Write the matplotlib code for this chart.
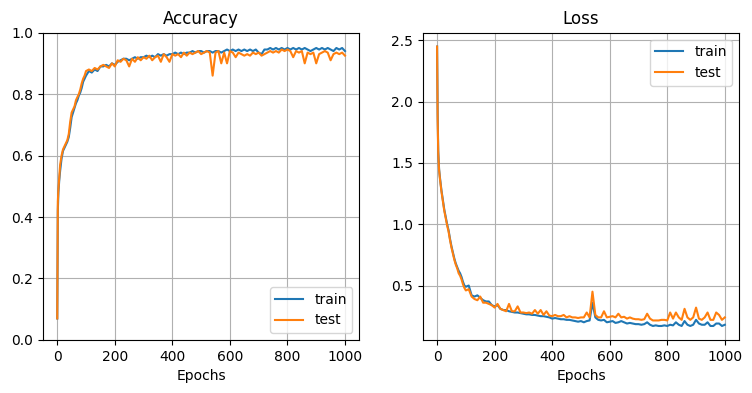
#Training curves: accuracy and loss of train/test over the epochs
import matplotlib
matplotlib.use("Agg")
import matplotlib.pyplot as plt

#Epochs at which the curves were read (denser at the start)
epochs = [0, 2, 4, 7] + list(range(10, 100, 5)) + list(range(100, 1001, 10))

#Accuracy
acc_train = [0.07, 0.42, 0.48, 0.52,
             0.55, 0.59, 0.615, 0.625, 0.635, 0.645, 0.66, 0.69, 0.725,
             0.74, 0.755, 0.77, 0.78, 0.795, 0.805, 0.82, 0.84, 0.85,
             0.86, 0.875, 0.87, 0.88, 0.875, 0.89, 0.89, 0.895, 0.89, 0.9,       # 100-190
             0.895, 0.905, 0.91, 0.915, 0.915, 0.91, 0.915, 0.92, 0.915, 0.92,   # 200-290
             0.92, 0.925, 0.92, 0.925, 0.92, 0.93, 0.925, 0.93, 0.925, 0.93,     # 300-390
             0.93, 0.935, 0.93, 0.935, 0.93, 0.935, 0.935, 0.94, 0.935, 0.94,    # 400-490
             0.94, 0.935, 0.94, 0.94, 0.935, 0.94, 0.94, 0.935, 0.94, 0.945,     # 500-590
             0.94, 0.945, 0.94, 0.945, 0.94, 0.945, 0.94, 0.945, 0.94, 0.945,    # 600-690
             0.935, 0.93, 0.945, 0.945, 0.95, 0.945, 0.95, 0.945, 0.95, 0.945,   # 700-790
             0.95, 0.945, 0.95, 0.945, 0.95, 0.945, 0.95, 0.945, 0.94, 0.945,    # 800-890
             0.95, 0.945, 0.95, 0.945, 0.95, 0.945, 0.94, 0.95, 0.945, 0.95,     # 900-990
             0.94]
acc_test = [0.07, 0.45, 0.49, 0.53,
            0.57, 0.6, 0.62, 0.63, 0.64, 0.65, 0.67, 0.71, 0.74,
            0.75, 0.76, 0.78, 0.79, 0.8, 0.815, 0.835, 0.85, 0.86,
            0.875, 0.88, 0.875, 0.885, 0.88, 0.89, 0.895, 0.89, 0.885, 0.9,    # 100-190
            0.89, 0.91, 0.905, 0.915, 0.91, 0.89, 0.915, 0.905, 0.92, 0.91,    # 200-290
            0.92, 0.915, 0.925, 0.91, 0.92, 0.925, 0.905, 0.93, 0.92, 0.905,   # 300-390
            0.93, 0.925, 0.93, 0.92, 0.935, 0.925, 0.935, 0.93, 0.935, 0.94,   # 400-490
            0.93, 0.935, 0.94, 0.935, 0.86, 0.935, 0.94, 0.9, 0.935, 0.9,      # 500-590
            0.94, 0.935, 0.92, 0.935, 0.93, 0.925, 0.93, 0.925, 0.935, 0.93,   # 600-690
            0.935, 0.925, 0.93, 0.935, 0.94, 0.935, 0.94, 0.935, 0.945, 0.94,  # 700-790
            0.945, 0.94, 0.92, 0.94, 0.935, 0.94, 0.9, 0.935, 0.93, 0.935,     # 800-890
            0.9, 0.93, 0.935, 0.94, 0.935, 0.91, 0.93, 0.935, 0.93, 0.935,     # 900-990
            0.925]

#Loss
loss_train = [2.45, 1.9, 1.6, 1.45,
              1.38, 1.28, 1.2, 1.12, 1.06, 1.0, 0.95, 0.88, 0.82,
              0.77, 0.72, 0.68, 0.65, 0.62, 0.6, 0.57, 0.53, 0.5,
              0.49, 0.5, 0.42, 0.41, 0.42, 0.4, 0.38, 0.37, 0.37, 0.34,          # 100-190
              0.33, 0.34, 0.31, 0.3, 0.3, 0.29, 0.285, 0.28, 0.28, 0.275,        # 200-290
              0.27, 0.265, 0.265, 0.26, 0.26, 0.255, 0.25, 0.25, 0.245, 0.24,    # 300-390
              0.23, 0.235, 0.23, 0.225, 0.225, 0.22, 0.22, 0.215, 0.21, 0.205,   # 400-490
              0.21, 0.2, 0.21, 0.215, 0.36, 0.24, 0.22, 0.215, 0.22, 0.2,        # 500-590
              0.205, 0.21, 0.195, 0.2, 0.21, 0.2, 0.19, 0.195, 0.19, 0.185,      # 600-690
              0.185, 0.18, 0.185, 0.2, 0.18, 0.17, 0.175, 0.17, 0.17, 0.175,     # 700-790
              0.17, 0.18, 0.175, 0.2, 0.18, 0.17, 0.21, 0.18, 0.17, 0.18,        # 800-890
              0.22, 0.19, 0.18, 0.18, 0.2, 0.17, 0.17, 0.19, 0.19, 0.17,         # 900-990
              0.18]
loss_test = [2.45, 1.85, 1.58, 1.44,
             1.37, 1.27, 1.19, 1.11, 1.05, 0.99, 0.94, 0.87, 0.81,
             0.76, 0.71, 0.67, 0.64, 0.6, 0.58, 0.55, 0.51, 0.48,
             0.46, 0.47, 0.41, 0.39, 0.38, 0.41, 0.36, 0.36, 0.35, 0.34,         # 100-190
             0.32, 0.35, 0.31, 0.3, 0.29, 0.35, 0.29, 0.29, 0.33, 0.28,          # 200-290
             0.28, 0.275, 0.28, 0.27, 0.3, 0.27, 0.3, 0.26, 0.29, 0.255,         # 300-390
             0.25, 0.26, 0.25, 0.25, 0.26, 0.24, 0.25, 0.24, 0.24, 0.235,        # 400-490
             0.24, 0.24, 0.28, 0.24, 0.45, 0.26, 0.24, 0.24, 0.29, 0.24,         # 500-590
             0.245, 0.25, 0.24, 0.27, 0.24, 0.245, 0.23, 0.24, 0.23, 0.225,      # 600-690
             0.225, 0.22, 0.225, 0.27, 0.23, 0.215, 0.215, 0.215, 0.22, 0.22,    # 700-790
             0.215, 0.28, 0.23, 0.28, 0.24, 0.22, 0.31, 0.24, 0.22, 0.24,        # 800-890
             0.32, 0.23, 0.22, 0.24, 0.28, 0.22, 0.22, 0.28, 0.26, 0.22,         # 900-990
             0.24]

fig, (ax1, ax2) = plt.subplots(1, 2, figsize=(7.52, 3.93), dpi=100)
plt.subplots_adjust(left=0.057, right=0.983, bottom=0.135, top=0.917, wspace=0.2)

#Accuracy plot
ax1.plot(epochs, acc_train, label='train')
ax1.plot(epochs, acc_test, label='test')
ax1.set_title("Accuracy")
ax1.set_xlabel("Epochs")
ax1.set_ylim(0, 1)
ax1.grid(True)
ax1.legend(loc='lower right')

#Loss plot
ax2.plot(epochs, loss_train, label='train')
ax2.plot(epochs, loss_test, label='test')
ax2.set_title("Loss")
ax2.set_xlabel("Epochs")
ax2.grid(True)
ax2.legend(loc='upper right')

plt.savefig("out.png")
